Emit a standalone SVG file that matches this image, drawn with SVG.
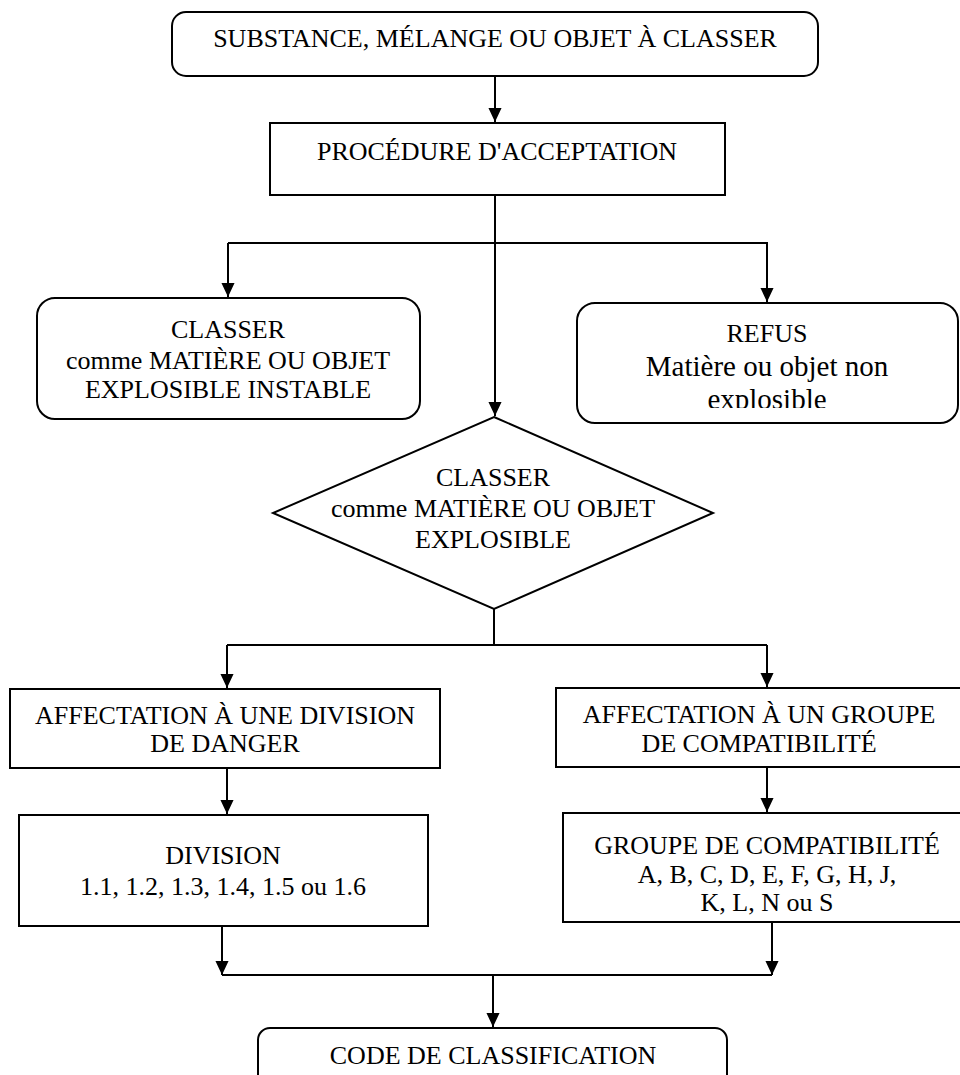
<svg xmlns="http://www.w3.org/2000/svg" width="960" height="1075" viewBox="0 0 960 1075">
<style>
.box{fill:#fff;stroke:#000;stroke-width:2}
.ln{fill:none;stroke:#000;stroke-width:2}
.t{font-family:"Liberation Serif","Times New Roman",serif;font-size:26px;fill:#000;text-anchor:middle}
.tl{font-size:29px}
</style>
<defs>
<marker id="ah" markerUnits="userSpaceOnUse" markerWidth="14" markerHeight="14" refX="15" refY="7" orient="auto" viewBox="0 0 15 14">
<path d="M0,0 L15,7 L0,14 z" fill="#000"/>
</marker>
<clipPath id="clipRefus"><rect x="577" y="303" width="381" height="105"/></clipPath>
</defs>

<g id="connectors">
<line class="ln" x1="495" y1="76" x2="495" y2="122" marker-end="url(#ah)"/>
<line class="ln" x1="495" y1="195" x2="495" y2="416" marker-end="url(#ah)"/>
<polyline class="ln" points="228,243 767,243 767,302" marker-end="url(#ah)"/>
<line class="ln" x1="228" y1="243" x2="228" y2="297" marker-end="url(#ah)"/>
<line class="ln" x1="494" y1="609" x2="494" y2="645"/>
<line class="ln" x1="227" y1="645" x2="767" y2="645"/>
<line class="ln" x1="227" y1="645" x2="227" y2="688" marker-end="url(#ah)"/>
<line class="ln" x1="767" y1="645" x2="767" y2="687" marker-end="url(#ah)"/>
<line class="ln" x1="227" y1="768" x2="227" y2="814" marker-end="url(#ah)"/>
<line class="ln" x1="767" y1="767" x2="767" y2="812" marker-end="url(#ah)"/>
<line class="ln" x1="222" y1="926" x2="222" y2="975" marker-end="url(#ah)"/>
<line class="ln" x1="772" y1="922" x2="772" y2="975" marker-end="url(#ah)"/>
<line class="ln" x1="222" y1="975" x2="772" y2="975"/>
<line class="ln" x1="493" y1="975" x2="493" y2="1027" marker-end="url(#ah)"/>
</g>

<g id="n-substance">
<rect class="box" x="172" y="12" width="646" height="64" rx="14"/>
<text class="t" x="495" y="47">SUBSTANCE, MÉLANGE OU OBJET À CLASSER</text>
</g>

<g id="n-procedure">
<rect class="box" x="270" y="123" width="455" height="72"/>
<text class="t" x="497" y="160">PROCÉDURE D'ACCEPTATION</text>
</g>

<g id="n-instable">
<rect class="box" x="37" y="298" width="383" height="121" rx="18"/>
<text class="t" x="228" y="338">CLASSER</text>
<text class="t" x="228" y="369">comme MATIÈRE OU OBJET</text>
<text class="t" x="228" y="398">EXPLOSIBLE INSTABLE</text>
</g>

<g id="n-refus">
<rect class="box" x="577" y="303" width="381" height="120" rx="18"/>
<text class="t" x="767" y="342">REFUS</text>
<text class="t tl" x="767" y="376">Matière ou objet non</text>
<text class="t tl" x="767" y="409" clip-path="url(#clipRefus)">explosible</text>
</g>

<g id="n-explosible">
<polygon class="box" points="494,417 713,513 494,609 273,513"/>
<text class="t" x="493" y="486">CLASSER</text>
<text class="t" x="493" y="517">comme MATIÈRE OU OBJET</text>
<text class="t" x="493" y="548">EXPLOSIBLE</text>
</g>

<g id="n-affect-division">
<rect class="box" x="10" y="689" width="430" height="79"/>
<text class="t" x="225" y="724">AFFECTATION À UNE DIVISION</text>
<text class="t" x="225" y="752">DE DANGER</text>
</g>

<g id="n-affect-groupe">
<rect class="box" x="556" y="688" width="405" height="79"/>
<text class="t" x="759" y="723">AFFECTATION À UN GROUPE</text>
<text class="t" x="759" y="752">DE COMPATIBILITÉ</text>
</g>

<g id="n-division">
<rect class="box" x="19" y="815" width="409" height="111"/>
<text class="t" x="223" y="864">DIVISION</text>
<text class="t" x="223" y="895">1.1, 1.2, 1.3, 1.4, 1.5 ou 1.6</text>
</g>

<g id="n-groupe">
<rect class="box" x="563" y="813" width="405" height="109"/>
<text class="t" x="767" y="854">GROUPE DE COMPATIBILITÉ</text>
<text class="t" x="767" y="883">A, B, C, D, E, F, G, H, J,</text>
<text class="t" x="767" y="911">K, L, N ou S</text>
</g>

<g id="n-code">
<rect class="box" x="258" y="1028" width="469" height="70" rx="12"/>
<text class="t" x="493" y="1064">CODE DE CLASSIFICATION</text>
</g>
</svg>
